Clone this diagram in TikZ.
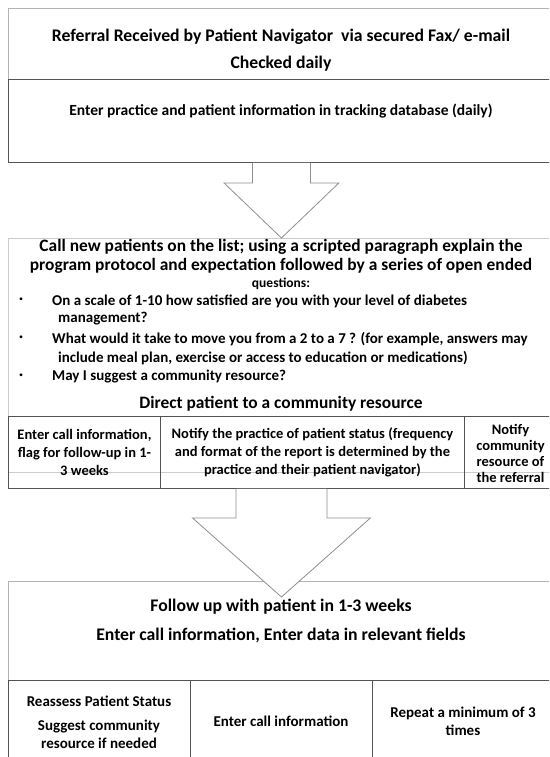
\documentclass[tikz,border=0pt]{standalone}
\usepackage{fontspec}
\setmainfont{Carlito}
\usetikzlibrary{calc}
\definecolor{LineClr}{rgb}{0.33,0.33,0.33}
\definecolor{FrameClr}{rgb}{0.7,0.7,0.7}
\definecolor{PaleClr}{rgb}{0.8,0.8,0.8}
\definecolor{ArrowClr}{rgb}{0.56,0.56,0.56}

\tikzset{
  box/.style={draw=LineClr,line width=0.9pt,inner sep=0pt,anchor=north west},
  frame/.style={box,draw=FrameClr},
  blockarrow/.style={draw=ArrowClr,fill=white,line width=0.8pt},
  headtxt/.style={font=\bfseries\fontsize{17.7}{22}\selectfont,inner sep=0pt,align=center},
  calltxt/.style={font=\bfseries\fontsize{17.4}{21}\selectfont,inner sep=0pt,align=center},
  bodytxt/.style={font=\bfseries\fontsize{15}{19}\selectfont,inner sep=0pt,align=left,anchor=west},
  celltxt/.style={font=\bfseries\fontsize{14.5}{18}\selectfont,inner sep=0pt,align=center},
}

\begin{document}
\begin{tikzpicture}[x=1pt,y=-1pt]
\useasboundingbox (0,0) rectangle (549,757);
\clip (0,0) rectangle (549,757);

\node[frame,minimum width=546,minimum height=71] (referral) at (8,8) {};
\node[box,minimum width=546,minimum height=83] (entry) at (8,79) {};
\node[frame,draw=PaleClr,minimum width=546,minimum height=234] (call) at (8,238) {};
\node[box,minimum width=152,minimum height=72] (flag) at (8,416) {};
\node[box,minimum width=304,minimum height=72] (notify) at (160,416) {};
\node[box,minimum width=92,minimum height=72] (resource) at (464,416) {};
\node[frame,minimum width=546,minimum height=99] (followup) at (8,581) {};
\node[box,minimum width=182,minimum height=100] (reassess) at (8,680) {};
\node[box,minimum width=182,minimum height=100] (callinfo) at (190,680) {};
\node[box,minimum width=182,minimum height=100] (repeat) at (372,680) {};

\draw[blockarrow] ($(entry.south)+(-29,0)$) -- ++(0,20) -- ++(-28.5,0) -- (call.north) -- ($(entry.south)+(57.5,20)$) -- ++(-28.5,0) -- ++(0,-20);

\coordinate (a2) at (call.south |- notify.south);
\coordinate (b2) at ($(followup.north)+(0,16)$);
\draw[blockarrow] ($(a2)+(-45.5,0)$) -- ++(0,29) -- ++(-43.5,0) -- (b2) -- ($(a2)+(89,29)$) -- ++(-43.5,0) -- ++(0,-29);

\node[headtxt] (refTxt) at (281,37) {Referral Received by Patient Navigator \ via secured Fax/ e-mail};
\node[headtxt] (checkTxt) at (281,64) {Checked daily};
\node[bodytxt,anchor=center,font=\bfseries\fontsize{15.5}{19}\selectfont] (entryTxt) at (281,111) {Enter practice and patient information in tracking database (daily)};

\node[calltxt] (callA) at (281,247) {Call new patients on the list; using a scripted paragraph explain the};
\node[calltxt] (callB) at (281,266) {program protocol and expectation followed by a series of open ended};
\node[celltxt,font=\bfseries\fontsize{13.5}{16}\selectfont] (callC) at (281,284) {questions:};
\foreach \y [count=\i] in {301,339,377}
  \node[bodytxt] (dot\i) at (19,\y) {·};
\node[bodytxt] (askA) at (52,301) {On a scale of 1-10 how satisfied are you with your level of diabetes};
\node[bodytxt] (askAb) at (58,319) {management?};
\node[bodytxt] (askB) at (52,339) {What would it take to move you from a 2 to a 7 ? (for example, answers may};
\node[bodytxt] (askBb) at (58,358) {include meal plan, exercise or access to education or medications)};
\node[bodytxt] (askC) at (52,377) {May I suggest a community resource?};
\node[calltxt] (direct) at (281,404) {Direct patient to a community resource};

\node[celltxt] (flagTxt) at (flag.center) {Enter call information,\\flag for follow-up in 1-\\3 weeks};
\node[celltxt] (notifyTxt) at (notify.center) {Notify the practice of patient status (frequency\\and format of the report is determined by the\\practice and their patient navigator)};
\node[celltxt,font=\bfseries\fontsize{14.5}{16}\selectfont] (resTxt) at ($(resource.center)+(0,1)$) {Notify\\community\\resource of\\the referral};

\node[headtxt] (followTxt) at (281,607) {Follow up with patient in 1-3 weeks};
\node[headtxt] (dataTxt) at (281,635) {Enter call information, Enter data in relevant fields};
\node[celltxt,font=\bfseries\fontsize{15}{18}\selectfont] (reTxt) at (99,701) {Reassess Patient Status};
\node[celltxt,font=\bfseries\fontsize{15}{18}\selectfont] (sugTxt) at (99,734) {Suggest community\\resource if needed};
\node[celltxt,font=\bfseries\fontsize{15}{18}\selectfont] (ciTxt) at (281,721) {Enter call information};
\node[celltxt,font=\bfseries\fontsize{15}{18}\selectfont] (repTxt) at (463,721) {Repeat a minimum of 3\\times};
\end{tikzpicture}
\end{document}
